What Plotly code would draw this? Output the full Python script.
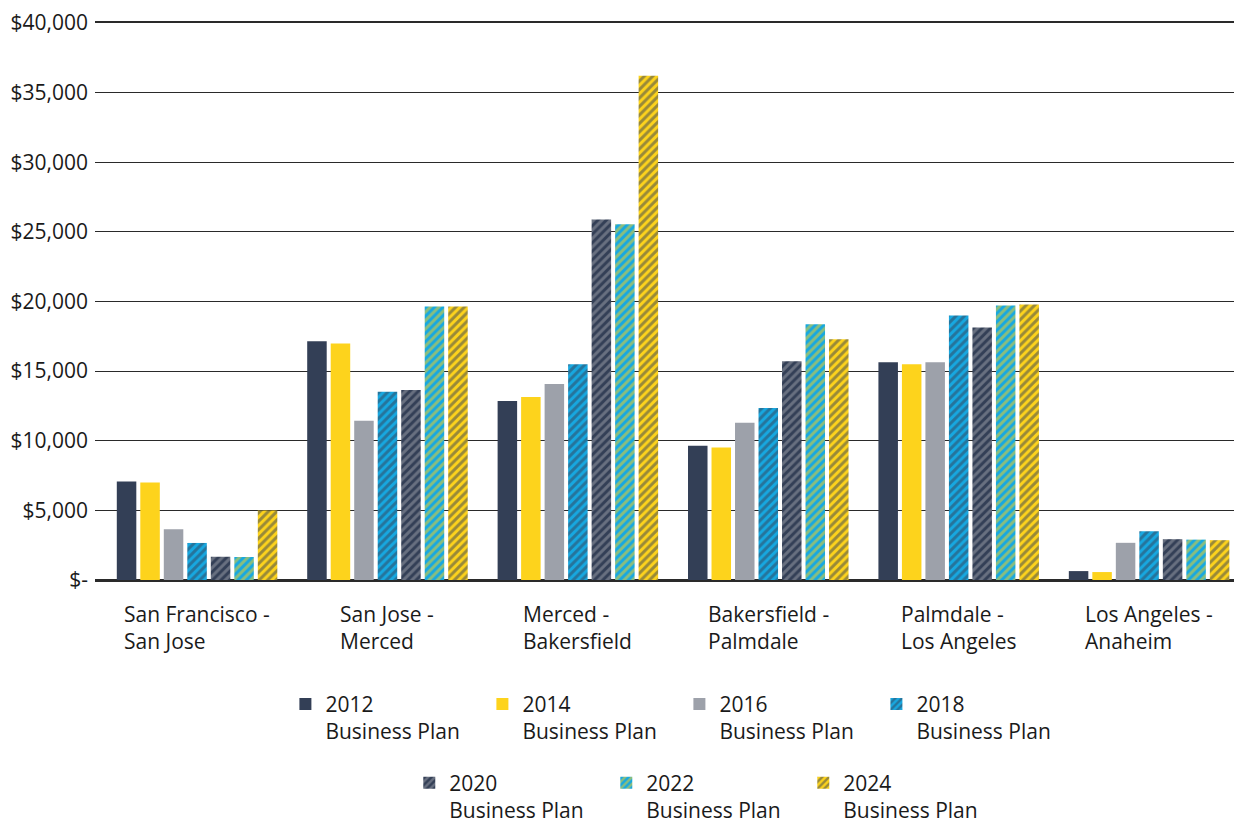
import plotly.graph_objects as go

categories = ["San Francisco -<br>San Jose", "San Jose -<br>Merced", "Merced -<br>Bakersfield",
              "Bakersfield -<br>Palmdale", "Palmdale -<br>Los Angeles", "Los Angeles -<br>Anaheim"]
cat_keys = ["SF-SJ", "SJ-M", "M-B", "B-P", "P-LA", "LA-A"]

plan_2012 = [7070, 17140, 12860, 9640, 15640, 640]
plan_2014 = [7000, 16980, 13140, 9520, 15500, 570]
plan_2016 = [3640, 11430, 14070, 11290, 15640, 2670]
plan_2018 = [2660, 13520, 15500, 12360, 19000, 3500]
plan_2020 = [1670, 13640, 25880, 15710, 18140, 2930]
plan_2022 = [1650, 19640, 25550, 18360, 19710, 2900]
plan_2024 = [5000, 19640, 36210, 17290, 19790, 2860]

series_names = ["2012<br>Business Plan", "2014<br>Business Plan", "2016<br>Business Plan",
                "2018<br>Business Plan", "2020<br>Business Plan", "2022<br>Business Plan",
                "2024<br>Business Plan"]
series_values = [plan_2012, plan_2014, plan_2016, plan_2018, plan_2020, plan_2022, plan_2024]

tick_vals = [0, 5000, 10000, 15000, 20000, 25000, 30000, 35000, 40000]
tick_text = ["$-", "$5,000", "$10,000", "$15,000", "$20,000", "$25,000", "$30,000", "$35,000", "$40,000"]

NAVY = "#333F56"
YELLOW = "#FDD31C"
GRAY = "#9DA1AA"
BLUE = "#17A8E0"
LINE = "#2a2a2a"
TEXT = "#1a1a1a"

# (background, stripe colour or None)
styles = [
    (NAVY, None),
    (YELLOW, None),
    (GRAY, None),
    (BLUE, NAVY),
    (NAVY, GRAY),
    (BLUE, YELLOW),
    (YELLOW, NAVY),
]
legend_ids = ["legend", "legend", "legend", "legend", "legend2", "legend2", "legend2"]

FONT = "Open Sans"
fig = go.Figure()
for name, vals, (bg, fg), lg in zip(series_names, series_values, styles, legend_ids):
    marker = dict(color=bg, line=dict(width=0))
    if fg is not None:
        marker["pattern"] = dict(shape="/", fgcolor=fg, bgcolor=bg, size=6,
                                 solidity=0.5, fillmode="overlay")
    fig.add_trace(go.Bar(x=cat_keys, y=vals, name=name, marker=marker, legend=lg))

for key, label in zip(cat_keys, categories):
    fig.add_annotation(x=key, xref="x", y=0, yref="paper", yanchor="top", xanchor="center",
                       yshift=-18, text=label, align="left", showarrow=False,
                       font=dict(family=FONT, size=21, color=TEXT))

fig.update_layout(
    width=1234, height=828,
    margin=dict(l=87, r=0, t=12, b=256),
    paper_bgcolor="white", plot_bgcolor="white",
    barmode="group", bargap=0.136, bargroupgap=0.17,
    font=dict(family=FONT, size=21, color=TEXT),
    legend=dict(orientation="h", x=0.166, xanchor="left", y=-0.1864, yanchor="top",
                entrywidth=152, entrywidthmode="pixels", valign="top",
                font=dict(family=FONT, size=21, color=TEXT), traceorder="normal"),
    legend2=dict(orientation="h", x=0.274, xanchor="left", y=-0.328, yanchor="top",
                 entrywidth=152, entrywidthmode="pixels", valign="top",
                 font=dict(family=FONT, size=21, color=TEXT), traceorder="normal"),
    xaxis=dict(showticklabels=False, showgrid=False, ticks="",
               showline=True, mirror=True, linecolor=LINE, linewidth=1.5,
               range=[-0.536, 5.488]),
    yaxis=dict(range=[0, 40000], tickvals=tick_vals, ticktext=tick_text,
               showgrid=True, gridcolor=LINE, gridwidth=1.3,
               zeroline=True, zerolinecolor=LINE, zerolinewidth=1.5,
               ticks="", ticklabelstandoff=6, ticklabeloverflow="allow",
               tickfont=dict(family=FONT, size=21, color=TEXT)),
)

fig.write_html("out.html")
